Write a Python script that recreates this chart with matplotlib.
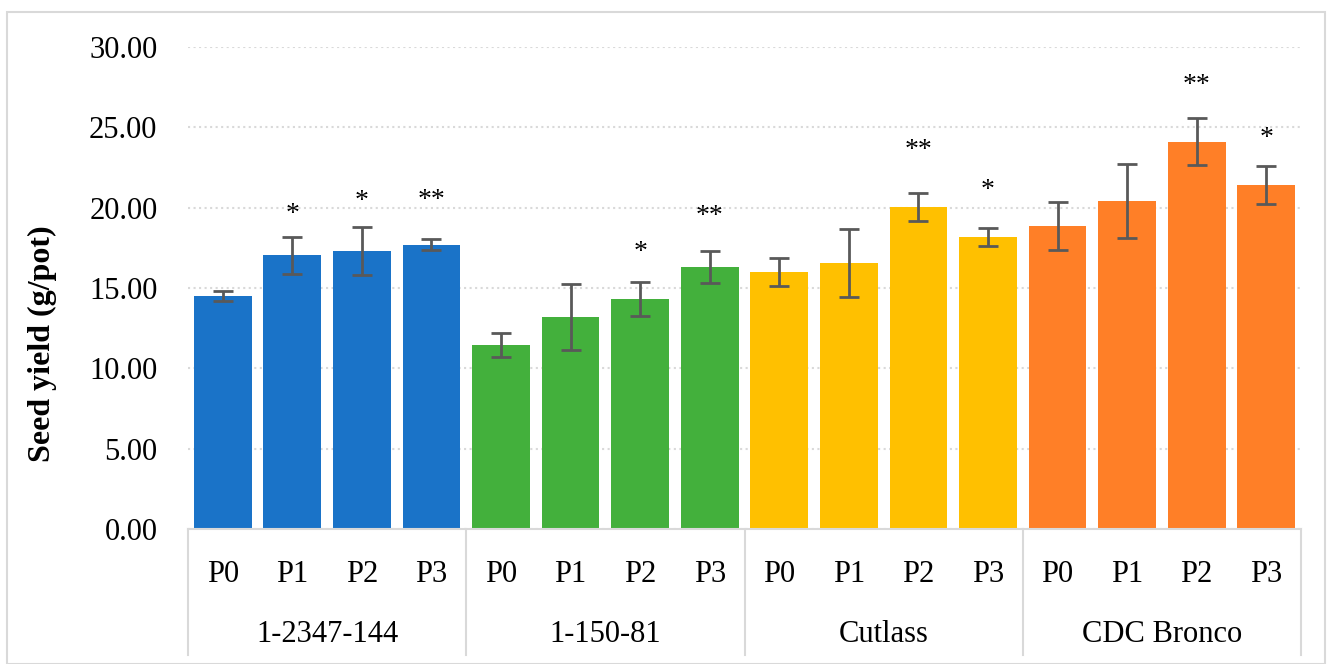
import numpy as np
import matplotlib.pyplot as plt
from matplotlib.patches import Rectangle
import matplotlib.transforms as mtransforms

plt.rcParams['font.family'] = ['Liberation Serif', 'DejaVu Serif']

# data
groups = ['1-2347-144', '1-150-81', 'Cutlass', 'CDC Bronco']
treatments = ['P0', 'P1', 'P2', 'P3']
colors = ['#1a73c8', '#43b03c', '#ffc000', '#ff7f27']

yield_1_2347_144 = [14.50, 17.05, 17.30, 17.70]
yield_1_150_81 = [11.45, 13.20, 14.30, 16.30]
yield_cutlass = [16.00, 16.55, 20.05, 18.17]
yield_cdc_bronco = [18.85, 20.40, 24.10, 21.40]

err_1_2347_144 = [0.30, 1.15, 1.50, 0.35]
err_1_150_81 = [0.75, 2.05, 1.05, 1.00]
err_cutlass = [0.85, 2.10, 0.85, 0.55]
err_cdc_bronco = [1.50, 2.30, 1.45, 1.20]

# significance marks and the height (data units) where each sits
stars_1_2347_144 = ['', '*', '*', '**']
stars_1_150_81 = ['', '', '*', '**']
stars_cutlass = ['', '', '**', '*']
stars_cdc_bronco = ['', '', '**', '*']
star_y_1_2347_144 = [0, 18.8, 19.6, 19.65]
star_y_1_150_81 = [0, 0, 16.45, 18.7]
star_y_cutlass = [0, 0, 22.8, 20.27]
star_y_cdc_bronco = [0, 0, 26.85, 23.5]

values = [yield_1_2347_144, yield_1_150_81, yield_cutlass, yield_cdc_bronco]
errors = [err_1_2347_144, err_1_150_81, err_cutlass, err_cdc_bronco]
stars = [stars_1_2347_144, stars_1_150_81, stars_cutlass, stars_cdc_bronco]
star_y = [star_y_1_2347_144, star_y_1_150_81, star_y_cutlass, star_y_cdc_bronco]

W, H = 1335, 664
fig = plt.figure(figsize=(W / 100, H / 100), dpi=100)
fig.patches.append(Rectangle((7 / W, 0), 1318 / W, (H - 12) / H, transform=fig.transFigure,
                             fill=False, edgecolor='#d9d9d9', linewidth=1.5))

ax_left, ax_right, ax_top, ax_bottom = 188, 1301, 47, 529
ax = fig.add_axes([ax_left / W, (H - ax_bottom) / H, (ax_right - ax_left) / W, (ax_bottom - ax_top) / H])

x = 0
xs, labels = [], []
for g in range(len(groups)):
    for t in range(len(treatments)):
        ax.bar(x, values[g][t], width=0.83, color=colors[g], zorder=3)
        ax.errorbar(x, values[g][t], yerr=errors[g][t], color='#595959', capsize=7,
                    elinewidth=2, capthick=2, zorder=4)
        if stars[g][t]:
            ax.text(x, star_y[g][t], stars[g][t], ha='center', va='bottom', fontsize=20, zorder=5)
        xs.append(x)
        labels.append(treatments[t])
        x += 1

ax.set_xlim(-0.5, x - 0.5)
ax.set_ylim(0, 30)
ax.set_yticks(np.arange(0, 31, 5))
ax.set_yticklabels(['%.2f' % v for v in np.arange(0, 31, 5)], fontsize=22)
ax.set_xticks(xs)
ax.set_xticklabels(labels, fontsize=22)
ax.tick_params(axis='y', length=0, pad=22)
ax.tick_params(axis='x', length=0, pad=22)
ax.grid(axis='y', color='#d9d9d9', linestyle=':', linewidth=1.5, zorder=0)
for s in ['top', 'right', 'left']:
    ax.spines[s].set_visible(False)
ax.spines['bottom'].set_color('#d9d9d9')
ax.spines['bottom'].set_linewidth(1.5)
ax.spines['bottom'].set_zorder(6)

trans = mtransforms.blended_transform_factory(ax.transData, ax.transAxes)
low = (ax_bottom - 655) / (ax_bottom - ax_top)
for b in np.arange(-0.5, x, len(treatments)):
    ax.plot([b, b], [0, low], transform=trans, color='#d9d9d9', linewidth=1.5, clip_on=False)
for g in range(len(groups)):
    ax.text(g * len(treatments) + 1.5, (ax_bottom - 635) / (ax_bottom - ax_top), groups[g],
            transform=trans, ha='center', va='center', fontsize=22)

ax.set_ylabel('Seed yield (g/pot)', fontsize=23, fontweight='bold')
ax.yaxis.set_label_coords((57 - ax_left) / (ax_right - ax_left), 0.385)

fig.savefig('out.png', dpi=100)
